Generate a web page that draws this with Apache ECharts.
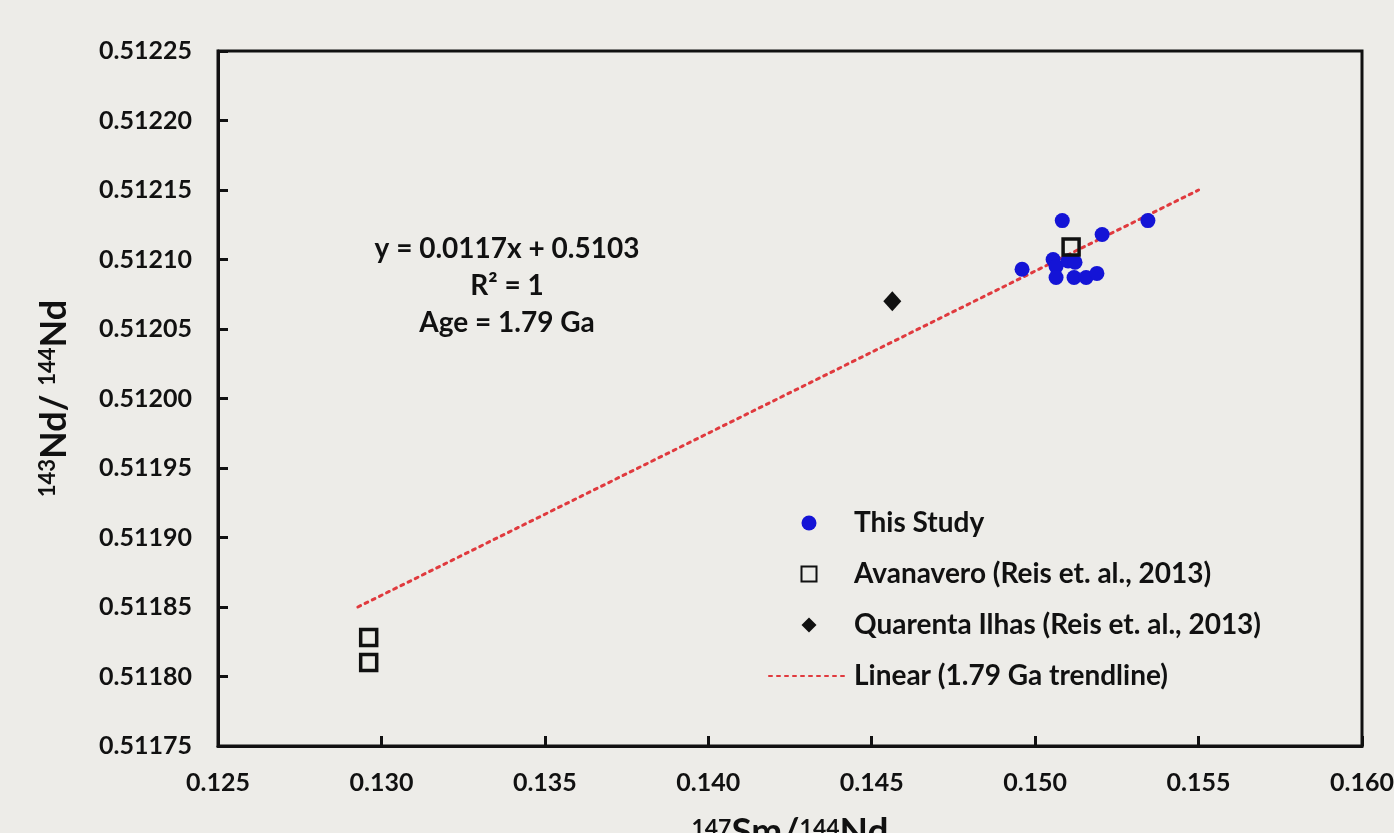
<!DOCTYPE html>
<html>
<head>
<meta charset="utf-8">
<script src="https://cdn.jsdelivr.net/npm/echarts@6/dist/echarts.min.js"></script>
<style>
  html, body { margin: 0; padding: 0; background: #edece8; }
  #chart { width: 1394px; height: 833px; }
</style>
</head>
<body>
<div id="chart"></div>
<script>
// 数据
const thisStudyX = [0.1496, 0.15083, 0.15055, 0.15064, 0.15101, 0.15122, 0.15064, 0.15119, 0.15156, 0.15189, 0.15205, 0.15345]
const thisStudyY = [0.512093, 0.512128, 0.51210, 0.512095, 0.512099, 0.512098, 0.512087, 0.512087, 0.512087, 0.51209, 0.512118, 0.512128]
const avanaveroX = [0.15110, 0.12961, 0.12961]
const avanaveroY = [0.512109, 0.511828, 0.51181]
const quarentaX = [0.14563]
const quarentaY = [0.51207]
const trendX = [0.12928, 0.155]
const trendY = [0.51185, 0.51215]
const seriesNames = ['This Study', 'Avanavero (Reis et. al., 2013)', 'Quarenta Ilhas (Reis et. al., 2013)', 'Linear (1.79 Ga trendline)']
const annotation = ['y = 0.0117x + 0.5103', 'R² = 1', 'Age = 1.79 Ga']

const zip = (xs, ys) => xs.map((x, i) => [x, ys[i]])
const font = 'Lato, "Liberation Sans", sans-serif'

const chart = echarts.init(document.getElementById('chart'))
const option = {
  backgroundColor: '#edece8',
  animation: false,
  textStyle: { fontFamily: font },
  grid: {
    left: 218, right: 32, top: 51, bottom: 87,
    outerBoundsMode: 'none',
    containLabel: false,
    show: true, borderColor: '#111', borderWidth: 3
  },
  legend: {
    orient: 'vertical',
    left: 768,
    top: 509,
    padding: 0,
    itemWidth: 80,
    itemHeight: 15,
    itemGap: 23,
    symbolKeepAspect: true,
    data: [
      { name: seriesNames[0] },
      { name: seriesNames[1], icon: 'path://M0,0H10V10H0Z' },
      { name: seriesNames[2], icon: 'path://M5,0L10,5L5,10L0,5Z' },
      { name: seriesNames[3], itemStyle: { opacity: 0 } }
    ],
    textStyle: { fontFamily: font, fontSize: 28, fontWeight: 'bold', color: '#111' }
  },
  xAxis: {
    type: 'value',
    min: 0.125,
    max: 0.16,
    interval: 0.005,
    splitLine: { show: false },
    axisLine: { onZero: false, lineStyle: { color: '#111', width: 3 } },
    axisTick: { inside: true, length: 10, lineStyle: { color: '#111', width: 3 } },
    axisLabel: {
      margin: 24, color: '#111', fontSize: 25, fontWeight: 'bold',
      formatter: v => v.toFixed(3)
    },
    name: '{s|147}{b|Sm/}{s|144}{b|Nd}',
    nameLocation: 'middle',
    nameGap: 68,
    nameTextStyle: {
      rich: {
        s: { fontSize: 23, fontWeight: 'bold', color: '#111', fontFamily: font, padding: [0, 0, 8, 0] },
        b: { fontSize: 37, fontWeight: 'bold', color: '#111', fontFamily: font }
      }
    }
  },
  yAxis: {
    type: 'value',
    min: 0.51175,
    max: 0.51225,
    interval: 0.00005,
    splitLine: { show: false },
    axisLine: { onZero: false, lineStyle: { color: '#111', width: 3 } },
    axisTick: { inside: true, length: 10, lineStyle: { color: '#111', width: 3 } },
    axisLabel: {
      margin: 26, color: '#111', fontSize: 25, fontWeight: 'bold',
      formatter: v => v.toFixed(5)
    },
    name: '{s|143}{b|Nd/ }{s|144}{b|Nd}',
    nameLocation: 'middle',
    nameGap: 146,
    nameRotate: 90,
    nameTextStyle: {
      rich: {
        s: { fontSize: 22, fontWeight: 'bold', color: '#111', fontFamily: font, padding: [0, 0, 12, 0] },
        b: { fontSize: 36, fontWeight: 'bold', color: '#111', fontFamily: font }
      }
    }
  },
  graphic: [{
    type: 'text',
    x: 507,
    y: 230,
    style: {
      text: annotation.join('\n'),
      font: 'bold 28px ' + font,
      fill: '#111',
      align: 'center',
      lineHeight: 37
    }
  }],
  series: [
    {
      name: seriesNames[3],
      type: 'line',
      data: zip(trendX, trendY),
      symbol: 'none',
      z: 1,
      lineStyle: { color: '#e03a3e', width: 3, type: [3, 5], cap: 'round' },
      itemStyle: { color: '#e03a3e' }
    },
    {
      name: seriesNames[0],
      type: 'scatter',
      data: zip(thisStudyX, thisStudyY),
      symbol: 'circle',
      symbolSize: 15,
      z: 3,
      itemStyle: { color: '#1414d6', opacity: 1 }
    },
    {
      name: seriesNames[1],
      type: 'scatter',
      data: zip(avanaveroX, avanaveroY),
      symbol: 'rect',
      symbolSize: 16,
      z: 4,
      itemStyle: { color: 'rgba(0,0,0,0)', borderColor: '#111', borderWidth: 3.5, opacity: 1 }
    },
    {
      name: seriesNames[2],
      type: 'scatter',
      data: zip(quarentaX, quarentaY),
      symbol: 'diamond',
      symbolSize: [18, 20],
      z: 4,
      itemStyle: { color: '#111', opacity: 1 }
    }
  ]
}
chart.setOption(option)
</script>
</body>
</html>
